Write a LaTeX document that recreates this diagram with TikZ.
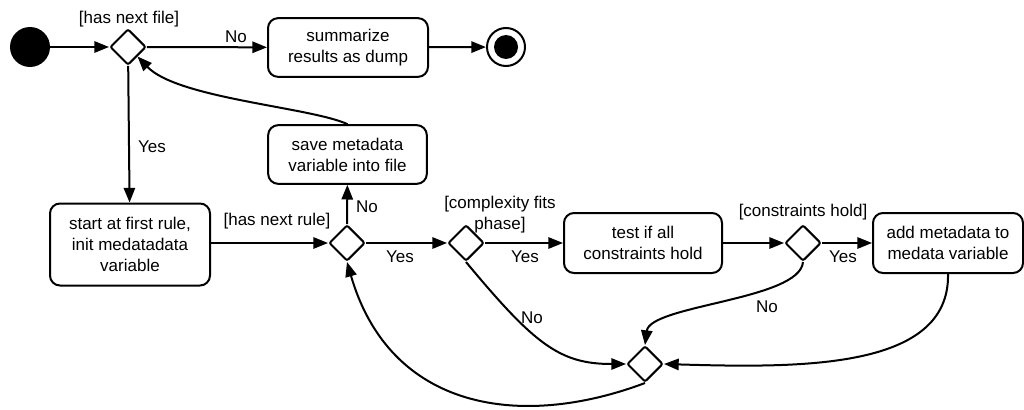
\documentclass[tikz,border=0pt]{standalone}
\usepackage{fontspec}
\setmainfont{Liberation Sans}
\usetikzlibrary{shapes.geometric,arrows.meta}
\begin{document}
\begin{tikzpicture}[x=0.75pt,y=-0.75pt,
  every node/.style={font=\fontsize{12.75pt}{15.75pt}\selectfont},
  act/.style={draw, line width=1.5pt, rounded corners=7.5pt, align=center, inner sep=0pt},
  decision/.style={draw, diamond, line width=1.5pt, rounded corners=1.5pt,
    minimum width=27pt, minimum height=27pt, inner sep=0pt},
  flow/.style={line width=1.5pt, -{Triangle[length=11pt,width=8.5pt]}},
  lbl/.style={inner sep=0pt, align=center}
]
\useasboundingbox (0,0) rectangle (1024,410);

% initial and final states
\node[fill, circle, minimum size=30pt, inner sep=0pt] (start) at (30,47) {};
\node[draw, circle, line width=1.5pt, minimum size=28.5pt, inner sep=0pt] (end) at (506,47) {};
\fill (end.center) circle (9pt);

% actions
\node[act, minimum width=120pt, minimum height=44pt] (sum) at (348,47.5) {summarize\\results as dump};
\node[act, minimum width=120pt, minimum height=61.5pt] (init) at (130,244.5) {start at first rule,\\init medatadata\\variable};
\node[act, minimum width=119pt, minimum height=44pt] (save) at (347.5,154.5) {save metadata\\variable into file};
\node[act, minimum width=118.5pt, minimum height=45pt] (test) at (643,243) {test if all\\constraints hold};
\node[act, minimum width=112.5pt, minimum height=45pt] (add) at (948,243) {add metadata to\\medata variable};

% decisions and merge
\node[decision] (d1) at (128,47) {};
\node[decision] (d2) at (347,243) {};
\node[decision] (d3) at (466,243) {};
\node[decision] (d4) at (803,243) {};
\node[decision] (d5) at (645,364) {};

% guards and branch labels
\node[lbl] at (129,19) {[has next file]};
\node[lbl] at (236,37) {No};
\node[lbl] at (152,147) {Yes};
\node[lbl] at (277,221) {[has next rule]};
\node[lbl] at (367,207) {No};
\node[lbl] at (400,257) {Yes};
\node[lbl] at (500,215) {[complexity fits\\phase]};
\node[lbl] at (525,257) {Yes};
\node[lbl] at (803,212) {[constraints hold]};
\node[lbl] at (843,257) {Yes};
\node[lbl] at (532,318) {No};
\node[lbl] at (767,307) {No};

% control flow
\draw[flow] (start) -- (d1);
\draw[flow] (d1) -- (sum);
\draw[flow] (sum) -- (end);
\draw[flow] (d1) -- (init);
\draw[flow] (init.east |- d2) -- (d2);
\draw[flow] (d2) -- (save);
\draw[flow] (d2) -- (d3);
\draw[flow] (d3) -- (test);
\draw[flow] (test) -- (d4);
\draw[flow] (d4) -- (add);
\draw[flow] (save.north) .. controls +(-37,-17) and +(40,42) .. (d1.south east);
\draw[flow] (d3.south) .. controls (535,345) and (560,364) .. (d5.west);
\draw[flow] (d4.south) .. controls (800,300) and (650,305) .. (d5.north);
\draw[flow] (add.south) .. controls (950,370) and (800,368) .. (d5.east);
\draw[flow] (d5.south) .. controls (520,430) and (390,410) .. (d2.south);
\end{tikzpicture}
\end{document}
